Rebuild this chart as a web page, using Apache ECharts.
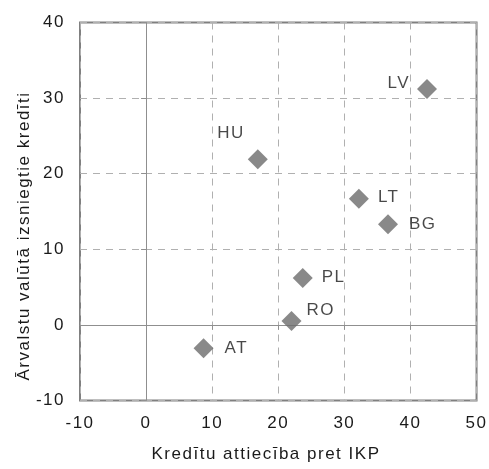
<!DOCTYPE html>
<html>
<head>
<meta charset="utf-8">
<script src="https://cdn.jsdelivr.net/npm/echarts@6/dist/echarts.min.js"></script>
<style>
  html, body { margin: 0; padding: 0; background: #fff; }
  #chart { width: 489px; height: 469px; }
</style>
</head>
<body>
<div id="chart"></div>
<script>
// Country codes and their coordinates
const countries = ['LV', 'HU', 'LT', 'BG', 'PL', 'RO', 'AT'];
const creditToGdp = [42.5, 16.9, 32.2, 36.6, 23.7, 22.0, 8.7];
const fxLoans = [31.2, 21.9, 16.7, 13.3, 6.2, 0.5, -3.1];

const xTitle = 'Kredītu attiecība pret IKP';
const yTitle = 'Ārvalstu valūtā izsniegtie kredīti';

// Label placement per country (relative to marker)
const labelPlace = {
  LV: { position: 'left', offset: [-2, -6] },
  HU: { position: 'left', offset: [2, -26] },
  LT: { position: 'right', offset: [4, -1] },
  BG: { position: 'right', offset: [6, 0] },
  PL: { position: 'right', offset: [4, -1] },
  RO: { position: 'right', offset: [0, -11] },
  AT: { position: 'right', offset: [6, 0] }
};

const font = 'Liberation Sans, Arial, sans-serif';
const textColor = '#1a1a1a';
const fontSize = 17;

const points = countries.map((c, i) => ({
  name: c,
  value: [creditToGdp[i], fxLoans[i]],
  label: Object.assign({ show: true, formatter: '{b}' }, labelPlace[c])
}));

const el = document.getElementById('chart');
const chart = echarts.init(el, null, { renderer: 'canvas' });

const dashed = { show: true, lineStyle: { color: '#b0b0b0', type: [7, 6], width: 1 } };
const zeroLine = { show: true, onZero: true, lineStyle: { color: '#8f8f8f', width: 1 } };
const zeroTick = { show: true, inside: false, length: 5, lineStyle: { color: '#8f8f8f', width: 1 } };

const option = {
  animation: false,
  backgroundColor: '#fff',
  grid: {
    left: 80, right: 11.5, top: 22.5, bottom: 68.5,
    show: true, borderColor: '#808080', borderWidth: 2, backgroundColor: 'transparent'
  },
  xAxis: [{
    type: 'value', min: -10, max: 50, interval: 10,
    axisLine: { show: false, onZero: false },
    axisTick: { show: false },
    axisLabel: { color: textColor, fontSize: fontSize, fontFamily: font, margin: 14 },
    splitLine: dashed
  }, {
    // zero line with small ticks at y = 0
    type: 'value', min: -10, max: 50, interval: 10, position: 'bottom',
    axisLine: zeroLine, axisTick: zeroTick,
    axisLabel: { show: false }, splitLine: { show: false }
  }],
  yAxis: [{
    type: 'value', min: -10, max: 40, interval: 10,
    axisLine: { show: false, onZero: false },
    axisTick: { show: false },
    axisLabel: { color: textColor, fontSize: fontSize, fontFamily: font, margin: 15 },
    splitLine: dashed
  }, {
    // zero line with small ticks at x = 0
    type: 'value', min: -10, max: 40, interval: 10, position: 'left',
    axisLine: zeroLine, axisTick: zeroTick,
    axisLabel: { show: false }, splitLine: { show: false }
  }],
  graphic: [
    {
      type: 'text', x: 266, y: 446,
      style: { text: xTitle, fill: textColor, font: fontSize + 'px ' + font, align: 'center', verticalAlign: 'top' }
    },
    {
      type: 'text', rotation: Math.PI / 2, x: 16, y: 236,
      style: { text: yTitle, fill: textColor, font: fontSize + 'px ' + font, align: 'center', verticalAlign: 'top' }
    }
  ],
  series: [{
    type: 'scatter',
    symbol: 'diamond',
    symbolSize: 20,
    itemStyle: { color: '#6b6b6b' },
    label: { color: textColor, fontSize: fontSize, fontFamily: font },
    data: points,
    z: 3
  }]
};

chart.setOption(option);

// slightly spaced lettering for all canvas text, then redraw
const cv = el.querySelector('canvas');
if (cv) {
  const ctx = cv.getContext('2d');
  if ('letterSpacing' in ctx) {
    ctx.letterSpacing = '1.5px';
    chart.setOption(option, true);
  }
}
</script>
</body>
</html>
